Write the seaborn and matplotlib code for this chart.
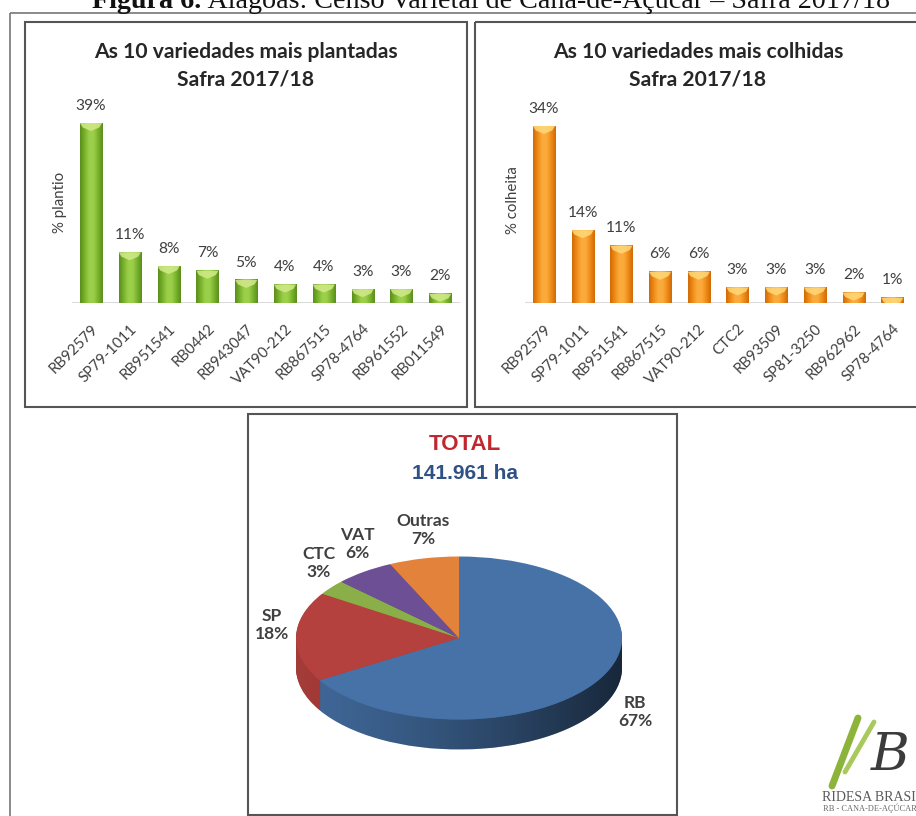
import numpy as np
import matplotlib
matplotlib.use("Agg")
import matplotlib.pyplot as plt
import matplotlib.font_manager as fm
import seaborn as sns
from matplotlib.patches import Rectangle, Polygon
from matplotlib.colors import LinearSegmentedColormap, to_rgb

# ---- data -----------------------------------------------------------------
plantio_variedades = ["RB92579", "SP79-1011", "RB951541", "RB0442", "RB943047",
                      "VAT90-212", "RB867515", "SP78-4764", "RB961552", "RB011549"]
plantio_pct = [39, 11, 8, 7, 5, 4, 4, 3, 3, 2]

colheita_variedades = ["RB92579", "SP79-1011", "RB951541", "RB867515", "VAT90-212",
                       "CTC2", "RB93509", "SP81-3250", "RB962962", "SP78-4764"]
colheita_pct = [34, 14, 11, 6, 6, 3, 3, 3, 2, 1]

grupos = ["RB", "SP", "CTC", "VAT", "Outras"]
grupos_pct = [67, 18, 3, 6, 7]
area_total = "141.961 ha"

# ---- figure setup -----------------------------------------------------------
W, H = 916, 816
sns.set_style("white")
plt.rcParams["font.family"] = ["Lato", "DejaVu Sans"]
TXT = "#404040"

installed = {f.name for f in fm.fontManager.ttflist}
narrow = "Liberation Sans Narrow" if "Liberation Sans Narrow" in installed else "Liberation Sans"

fig = plt.figure(figsize=(W / 100, H / 100), dpi=100)
fig.patch.set_facecolor("white")


def px_axes(x0, y0, x1, y1, **kw):
    return fig.add_axes([x0 / W, 1 - y1 / H, (x1 - x0) / W, (y1 - y0) / H], **kw)


def shade(c, f):
    r, g, b = to_rgb(c)
    return (r * f, g * f, b * f)


# canvas in pixel units for the frames and the logo
bg = px_axes(0, 0, W, H, zorder=-10)
bg.set_xlim(0, W)
bg.set_ylim(H, 0)
bg.axis("off")
frame_kw = dict(fill=False, ec="#555555", lw=1.5)
bg.add_patch(Rectangle((9.5, 12.5), 950, 900, ec="#777777", fill=False, lw=1.2))
bg.add_patch(Rectangle((25, 22), 442, 385, **frame_kw))
bg.add_patch(Rectangle((475, 22), 470, 385, **frame_kw))
bg.add_patch(Rectangle((248, 414), 429, 401, **frame_kw))


# ---- bar panels ---------------------------------------------------------------
def bar_panel(ax, names, values, base, light, dark, cap, ymax, xmax, ylabel, ylab_xy):
    sns.barplot(x=names, y=values, ax=ax, color=base, saturation=1, width=0.57, zorder=2)
    ppu = ax.get_position().height * H / ymax  # pixels per percent
    cmap = LinearSegmentedColormap.from_list("cyl", [dark, base, light, light, base, dark])
    grad = np.linspace(0, 1, 128).reshape(1, -1)
    for p in list(ax.patches):
        x0, w, h = p.get_x(), p.get_width(), p.get_height()
        ax.imshow(grad, extent=(x0, x0 + w, 0, h), aspect="auto", cmap=cmap,
                  interpolation="bicubic", zorder=3)
        c = 8 / ppu
        ax.add_patch(Polygon([(x0, h), (x0 + w, h), (x0 + w * 0.88, h - c * 0.55),
                              (x0 + w * 0.5, h - c), (x0 + w * 0.12, h - c * 0.55)],
                             closed=True, fc=cap, ec="none", alpha=0.85, zorder=4))
    for i, v in enumerate(values):
        ax.annotate(f"{v}%", (i, v), xytext=(0, 12.5), textcoords="offset points",
                    ha="center", va="center", fontsize=11.2, color=TXT)
    ax.axhline(0, color="#d6d6d6", lw=1.3, zorder=1)
    ax.set_xlim(-0.5, xmax)
    ax.set_ylim(0, ymax)
    ax.set_yticks([])
    ax.set_xlabel("")
    ax.set_ylabel(ylabel, fontsize=10.8, color=TXT)
    ax.yaxis.label.set_va("center")
    ax.yaxis.set_label_coords(*ylab_xy)
    sns.despine(ax=ax, left=True, bottom=True)
    ax.tick_params(axis="x", length=0, pad=13.5, labelsize=10.8, labelcolor=TXT)
    for lab in ax.get_xticklabels():
        lab.set_rotation(45)
        lab.set_ha("right")
        lab.set_rotation_mode("anchor")
    ax.patch.set_alpha(0)


ax1 = px_axes(71.6, 118.4, 459.6, 303)
bar_panel(ax1, plantio_variedades, plantio_pct, "#77b22c", "#9ccf4a", "#5a8c1c", "#d2ea8a",
          40, 9.5, "% plantio", (-0.030, 0.547))

ax2 = px_axes(524.6, 120.8, 903.9, 303)
bar_panel(ax2, colheita_variedades, colheita_pct, "#ef8a17", "#fbab3c", "#cf6a08", "#ffd97a",
          35, 9.3, "% colheita", (-0.031, 0.565))

title_kw = dict(ha="center", va="center", fontsize=15.2, fontweight="bold", color="#262626")
fig.text(246 / W, 1 - 52 / H, "As 10 variedades mais plantadas", **title_kw)
fig.text(246 / W, 1 - 79 / H, "Safra 2017/18", **title_kw)
fig.text(698 / W, 1 - 52 / H, "As 10 variedades mais colhidas", **title_kw)
fig.text(698 / W, 1 - 79 / H, "Safra 2017/18", **title_kw)

# ---- 3-D style pie --------------------------------------------------------------
cx, cy, rx, ry, depth = 459, 638, 163, 81.5, 30
pie_ax = px_axes(250, 418, 676, 812)
d = depth / ry
pie_colors = ["#4672a8", "#b5413e", "#8aaf48", "#6d4f95", "#e3823a"]
side_colors = [shade(c, 0.9) for c in pie_colors]

for t in np.linspace(d, 0, 31)[:-1]:
    pie_ax.pie(grupos_pct, colors=side_colors, startangle=90, counterclock=False,
               center=(0, -t), radius=1, wedgeprops=dict(lw=0, zorder=1))

theta = np.linspace(np.pi, 2 * np.pi, 240)
band = np.vstack([np.c_[np.cos(theta), np.sin(theta)],
                  np.c_[np.cos(theta[::-1]), np.sin(theta[::-1]) - d]])
band_patch = Polygon(band, closed=True, fc="none", ec="none")
pie_ax.add_patch(band_patch)
ramp = np.zeros((1, 256, 4))
ramp[..., 3] = 0.62 * np.linspace(0, 1, 256) ** 1.4
im = pie_ax.imshow(ramp, extent=(-1, 1, -1 - d, 0), aspect="auto", zorder=2,
                   interpolation="bicubic")
im.set_clip_path(band_patch)

pie_ax.pie(grupos_pct, colors=pie_colors, startangle=90, counterclock=False,
           radius=1, wedgeprops=dict(lw=0, zorder=3))

pie_ax.set_aspect("auto")
pie_ax.set_xlim((250 - cx) / rx, (676 - cx) / rx)
pie_ax.set_ylim((cy - 812) / ry, (cy - 418) / ry)
pie_ax.axis("off")

rotulo_px = [(635, 712), (272, 625), (319, 563), (357, 544), (423, 530)]
for g, v, (px, py) in zip(grupos, grupos_pct, rotulo_px):
    pie_ax.text((px - cx) / rx, (cy - py) / ry, f"{g}\n{v}%", ha="center", va="center",
                fontsize=12.5, fontweight="bold", color=TXT, linespacing=1.15, zorder=5)

fig.text(465 / W, 1 - 445 / H, "TOTAL", ha="center", va="center", fontsize=16,
         fontweight="bold", color="#c0282d", family=narrow)
fig.text(465 / W, 1 - 473 / H, area_total, ha="center", va="center", fontsize=15,
         fontweight="bold", color="#2e5286", family=narrow)

# ---- logo -----------------------------------------------------------------------
bg.plot([832, 858], [786, 718], color="#8db43a", lw=5, solid_capstyle="round")
bg.plot([845, 874], [772, 722], color="#a9c95c", lw=3.5, solid_capstyle="round")
bg.text(890, 755, "B", family="DejaVu Serif", style="italic", fontsize=38,
        color="#3c3c3c", ha="center", va="center")
bg.text(822, 801, "RIDESA BRASIL", family="Liberation Serif", fontsize=10,
        color="#5a5a5a", ha="left", va="baseline")
bg.text(823, 811, "RB - CANA-DE-AÇÚCAR", family="Liberation Serif", fontsize=6,
        color="#6a6a6a", ha="left", va="baseline")

# ---- caption, mostly outside the page ---------------------------------------------
r = fig.canvas.get_renderer()
cap_rest = " Alagoas: Censo Varietal de Cana-de-Açúcar – Safra 2017/18"
probe_a = fig.text(0, 0, "Figura 6.", family="Liberation Serif", fontweight="bold", fontsize=20)
probe_b = fig.text(0, 0, cap_rest, family="Liberation Serif", fontsize=20)
wa = probe_a.get_window_extent(r).width
wb = probe_b.get_window_extent(r).width
probe_a.remove()
probe_b.remove()
fs = 20 * 798 / (wa + wb)
base_y = 1 - 7.5 / H
fig.text(92 / W, base_y, "Figura 6.", family="Liberation Serif", fontweight="bold",
         fontsize=fs, va="baseline", ha="left", color="#111111")
fig.text((92 + wa * fs / 20) / W, base_y, cap_rest, family="Liberation Serif",
         fontsize=fs, va="baseline", ha="left", color="#111111")

fig.savefig("out.png", dpi=100, facecolor="white")
